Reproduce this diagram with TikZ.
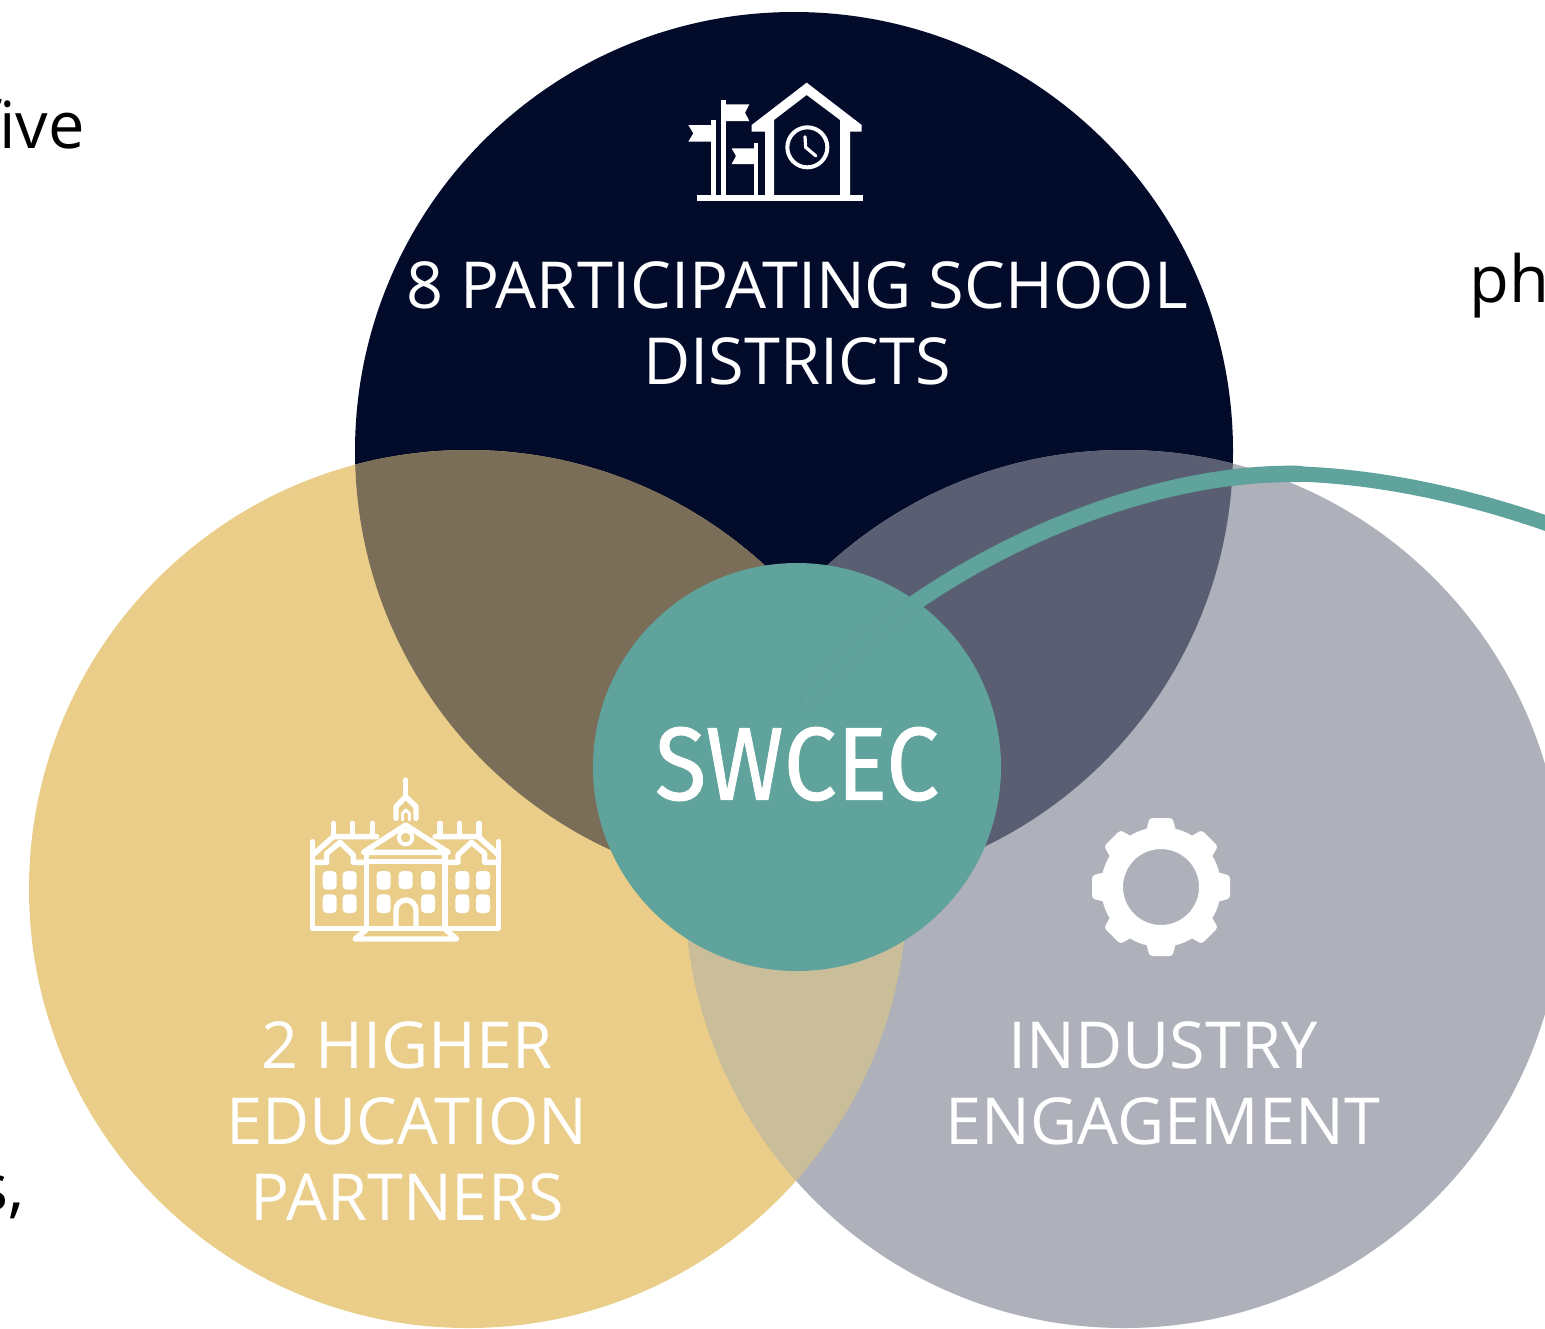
\documentclass[tikz,border=0pt]{standalone}
\usepackage{fontspec}
\setmainfont{Open Sans}
\newfontfamily\swcecfont[FakeStretch=0.91,FakeBold=0.7]{Fira Sans}
\definecolor{navy}{HTML}{030B2B}
\definecolor{gold}{HTML}{E9CD88}
\definecolor{greyblue}{HTML}{AEB0BA}
\definecolor{teal}{HTML}{60A39C}
\definecolor{tealedge}{HTML}{5B9D96}
\definecolor{navygold}{HTML}{7A6E59}
\definecolor{navygrey}{HTML}{5A5E72}
\definecolor{goldgrey}{HTML}{C9BD9A}
\tikzset{
  venn/.style={circle,inner sep=0pt,minimum size=439pt},
  venntext/.style={white,align=center,font=\fontsize{32.4}{38}\selectfont},
  sidetext/.style={black,font=\fontsize{32.5}{38}\selectfont},
  icon/.style={white,line width=2.7pt,line join=round,line cap=round},
  window/.style={white,fill=white,rounded corners=2pt}
}
\begin{document}
\begin{tikzpicture}[x=0.5pt,y=-0.5pt]
\useasboundingbox (0,0) rectangle (1545,1328);
% cut-off words at the edges
\node[sidetext,anchor=base east,inner sep=0pt] (five) at (85,148) {five};
\node[sidetext,anchor=base west,inner sep=0pt] (ph) at (1469,302) {ph};
\node[sidetext,anchor=base east,inner sep=0pt] (comma) at (25,1210) {s,};
% the three circles
\node[venn,fill=navy] (top) at (794,451) {};
\node[venn,fill=gold] (left) at (468,889) {};
\node[venn,fill=greyblue] (right) at (1124,889) {};
% overlaps
\begin{scope}
\clip (794,451) circle (439);
\fill[navygold] (468,889) circle (439);
\fill[navygrey] (1124,889) circle (439);
\end{scope}
\begin{scope}
\clip (468,889) circle (439);
\fill[goldgrey] (1124,889) circle (439);
\end{scope}
% centre circle and the line out of it
\node[circle,inner sep=0pt,minimum size=204pt,fill=teal] (centre) at (797,767) {};
\coordinate (linestart) at (808,697);
\coordinate (linetop) at (1300,474);
\coordinate (lineend) at (1565,530);
\draw[tealedge,line width=8.2pt,line cap=round] (linestart) .. controls (905,582) and (1120,470) .. (linetop);
\draw[teal,line width=7.6pt,line cap=round] (linestart) .. controls (905,582) and (1120,470) .. (linetop) .. controls (1380,477) and (1470,495) .. (lineend);
% labels
\node[venntext] (schools) at (797,323) {8 PARTICIPATING SCHOOL\\DISTRICTS};
\node[venntext] (higher) at (407,1121) {2 HIGHER\\EDUCATION\\PARTNERS};
\node[venntext] (industry) at (1163,1083) {INDUSTRY\\ENGAGEMENT};
\node[white,font=\swcecfont\fontsize{52}{52}\selectfont] (swcec) at (797,764) {SWCEC};
% school icon
\begin{scope}[shift={(660,60)},scale=1/3]
\fill[white] (110,405) rectangle (608,422);
\fill[white] (440,68) -- (605,195) -- (605,215) -- (570,215) -- (570,405) -- (540,405) -- (540,180) -- (440,105) -- (342,180) -- (342,405) -- (315,405) -- (315,215) -- (275,215) -- (275,195) -- cycle;
\draw[white,line width=2pt] (442,262) circle (60);
\draw[white,line width=1.6pt,line cap=round] (435,230) -- (437,262) -- (468,288);
\fill[white] (153,180) rectangle (167,405);
\fill[white] (183,120) rectangle (197,405);
\fill[white] (281,250) rectangle (295,405);
\fill[white] (160,195) -- (85,195) -- (100,220) -- (85,245) -- (160,245) -- cycle;
\fill[white] (195,133) -- (268,133) -- (255,158) -- (268,183) -- (195,183) -- cycle;
\fill[white] (288,265) -- (215,265) -- (228,288) -- (215,312) -- (288,312) -- cycle;
\end{scope}
% college icon
\begin{scope}[shift={(290,765)},scale=1/3]
\draw[icon] (68,230) -- (68,490) -- (626,490) -- (626,230);
\draw[icon] (230,268) -- (230,490) (465,268) -- (465,490);
\draw[icon] (220,262) -- (347,180) -- (475,262) -- cycle;
\draw[icon,line width=2pt] (347,218) circle (20);
\draw[icon] (318,160) -- (318,125) -- (347,95) -- (378,125) -- (378,160);
\draw[icon,line width=1.5pt] (338,165) -- (338,145) -- (347,135) -- (358,145) -- (358,165);
\draw[icon] (347,45) -- (347,95);
\draw[icon] (230,290) -- (465,290);
\draw[icon] (68,270) -- (130,215) -- (260,215);
\draw[icon] (626,270) -- (565,215) -- (435,215);
\foreach \mx in {130,187,247,450,508,567}
  \draw[icon] (\mx,175) -- (\mx,215);
\draw[icon] (68,292) -- (110,292) -- (110,265) -- (150,232) -- (190,270) -- (190,292) -- (230,292);
\draw[icon] (626,292) -- (584,292) -- (584,265) -- (544,232) -- (504,270) -- (504,292) -- (465,292);
\foreach \wx in {98,158,260,393,496,558}
  \foreach \wy in {318,388}
    \fill[window] (\wx,\wy) rectangle +(42,56);
\fill[window] (326,318) rectangle +(42,54);
\draw[icon] (318,485) -- (318,435) arc[start angle=180,end angle=360,radius=30] -- (378,485);
\draw[icon] (228,495) -- (195,522) -- (500,522) -- (468,495);
\end{scope}
% gear icon
\begin{scope}[shift={(1161,887)}]
\draw[white,line width=11pt] (0,0) circle (49);
\foreach \ang in {0,45,...,315}
  \fill[white,rotate=\ang,rounded corners=1.5pt] (-16,-52) -- (-11.5,-69) -- (11.5,-69) -- (16,-52) -- cycle;
\end{scope}
\end{tikzpicture}
\end{document}
